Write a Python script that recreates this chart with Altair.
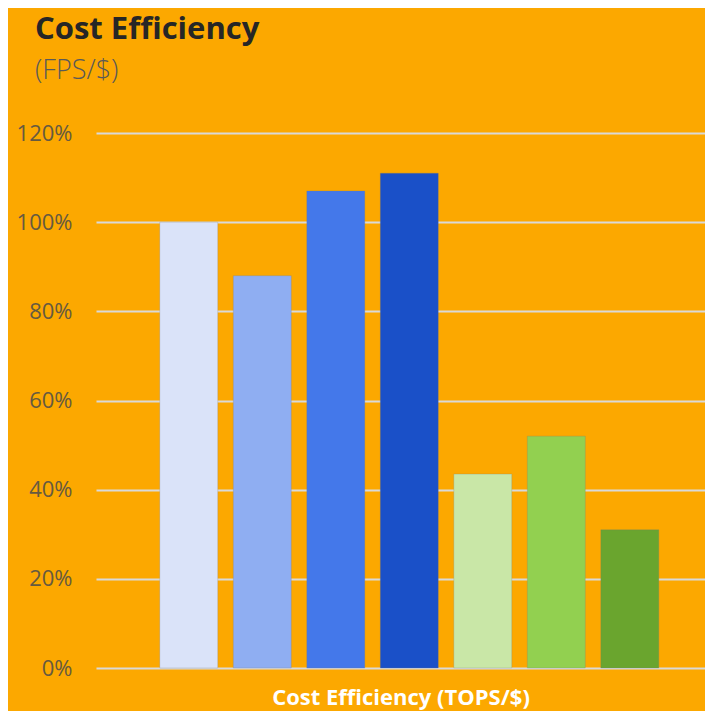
import altair as alt
import pandas as pd

categories = ["Bar 1", "Bar 2", "Bar 3", "Bar 4", "Bar 5", "Bar 6", "Bar 7"]
values = [1.00, 0.88, 1.07, 1.11, 0.435, 0.52, 0.31]
colors = ["#DAE3F9", "#8FAEF2", "#4478EA", "#1A50C8", "#C9E7A7", "#92D050", "#6AA52E"]
y_ticks = [0, 0.2, 0.4, 0.6, 0.8, 1.0, 1.2]

df = pd.DataFrame({"cat": categories, "val": values})

BG = "#FCA800"

chart = alt.Chart(df).mark_bar(
    stroke="#7a7a7a", strokeOpacity=0.25, strokeWidth=1
).encode(
    x=alt.X(
        "cat:N",
        sort=categories,
        scale=alt.Scale(paddingInner=0.211, paddingOuter=0.748, align=0.58),
        axis=alt.Axis(
            title="Cost Efficiency (TOPS/$)",
            labels=False, ticks=False, domain=False, grid=False,
            titleColor="#FFFFFF", titleFont="Open Sans", titleFontSize=22,
            titleFontWeight="bold", titlePadding=19,
        ),
    ),
    y=alt.Y(
        "val:Q",
        scale=alt.Scale(domain=[0, 1.2], nice=False),
        axis=alt.Axis(
            title=None, values=y_ticks, format=".0%",
            ticks=False, domain=False, grid=True,
            gridColor="#D9D9D9", gridWidth=2,
            labelFont="Open Sans", labelFontSize=22, labelColor="#665a40",
            labelPadding=24,
        ),
    ),
    color=alt.Color("cat:N", sort=categories,
                    scale=alt.Scale(domain=categories, range=colors), legend=None),
).properties(
    width=609,
    height=535,
    background=BG,
    padding={"left": 88, "top": 125, "right": 0, "bottom": 43},
    autosize=alt.AutoSizeParams(type="none"),
    title=alt.TitleParams(
        text="Cost Efficiency",
        subtitle="(FPS/$)",
        anchor="start",
        frame="group",
        dx=-61,
        offset=37,
        font="Open Sans",
        fontSize=31,
        fontWeight="bold",
        color="#262626",
        subtitleFont="Open Sans",
        subtitleFontSize=27,
        subtitleFontWeight=300,
        subtitleColor="#595959",
        subtitlePadding=12,
    ),
).configure_view(stroke=None)

chart.save("out.html", embed_options={"renderer": "svg", "actions": False})
